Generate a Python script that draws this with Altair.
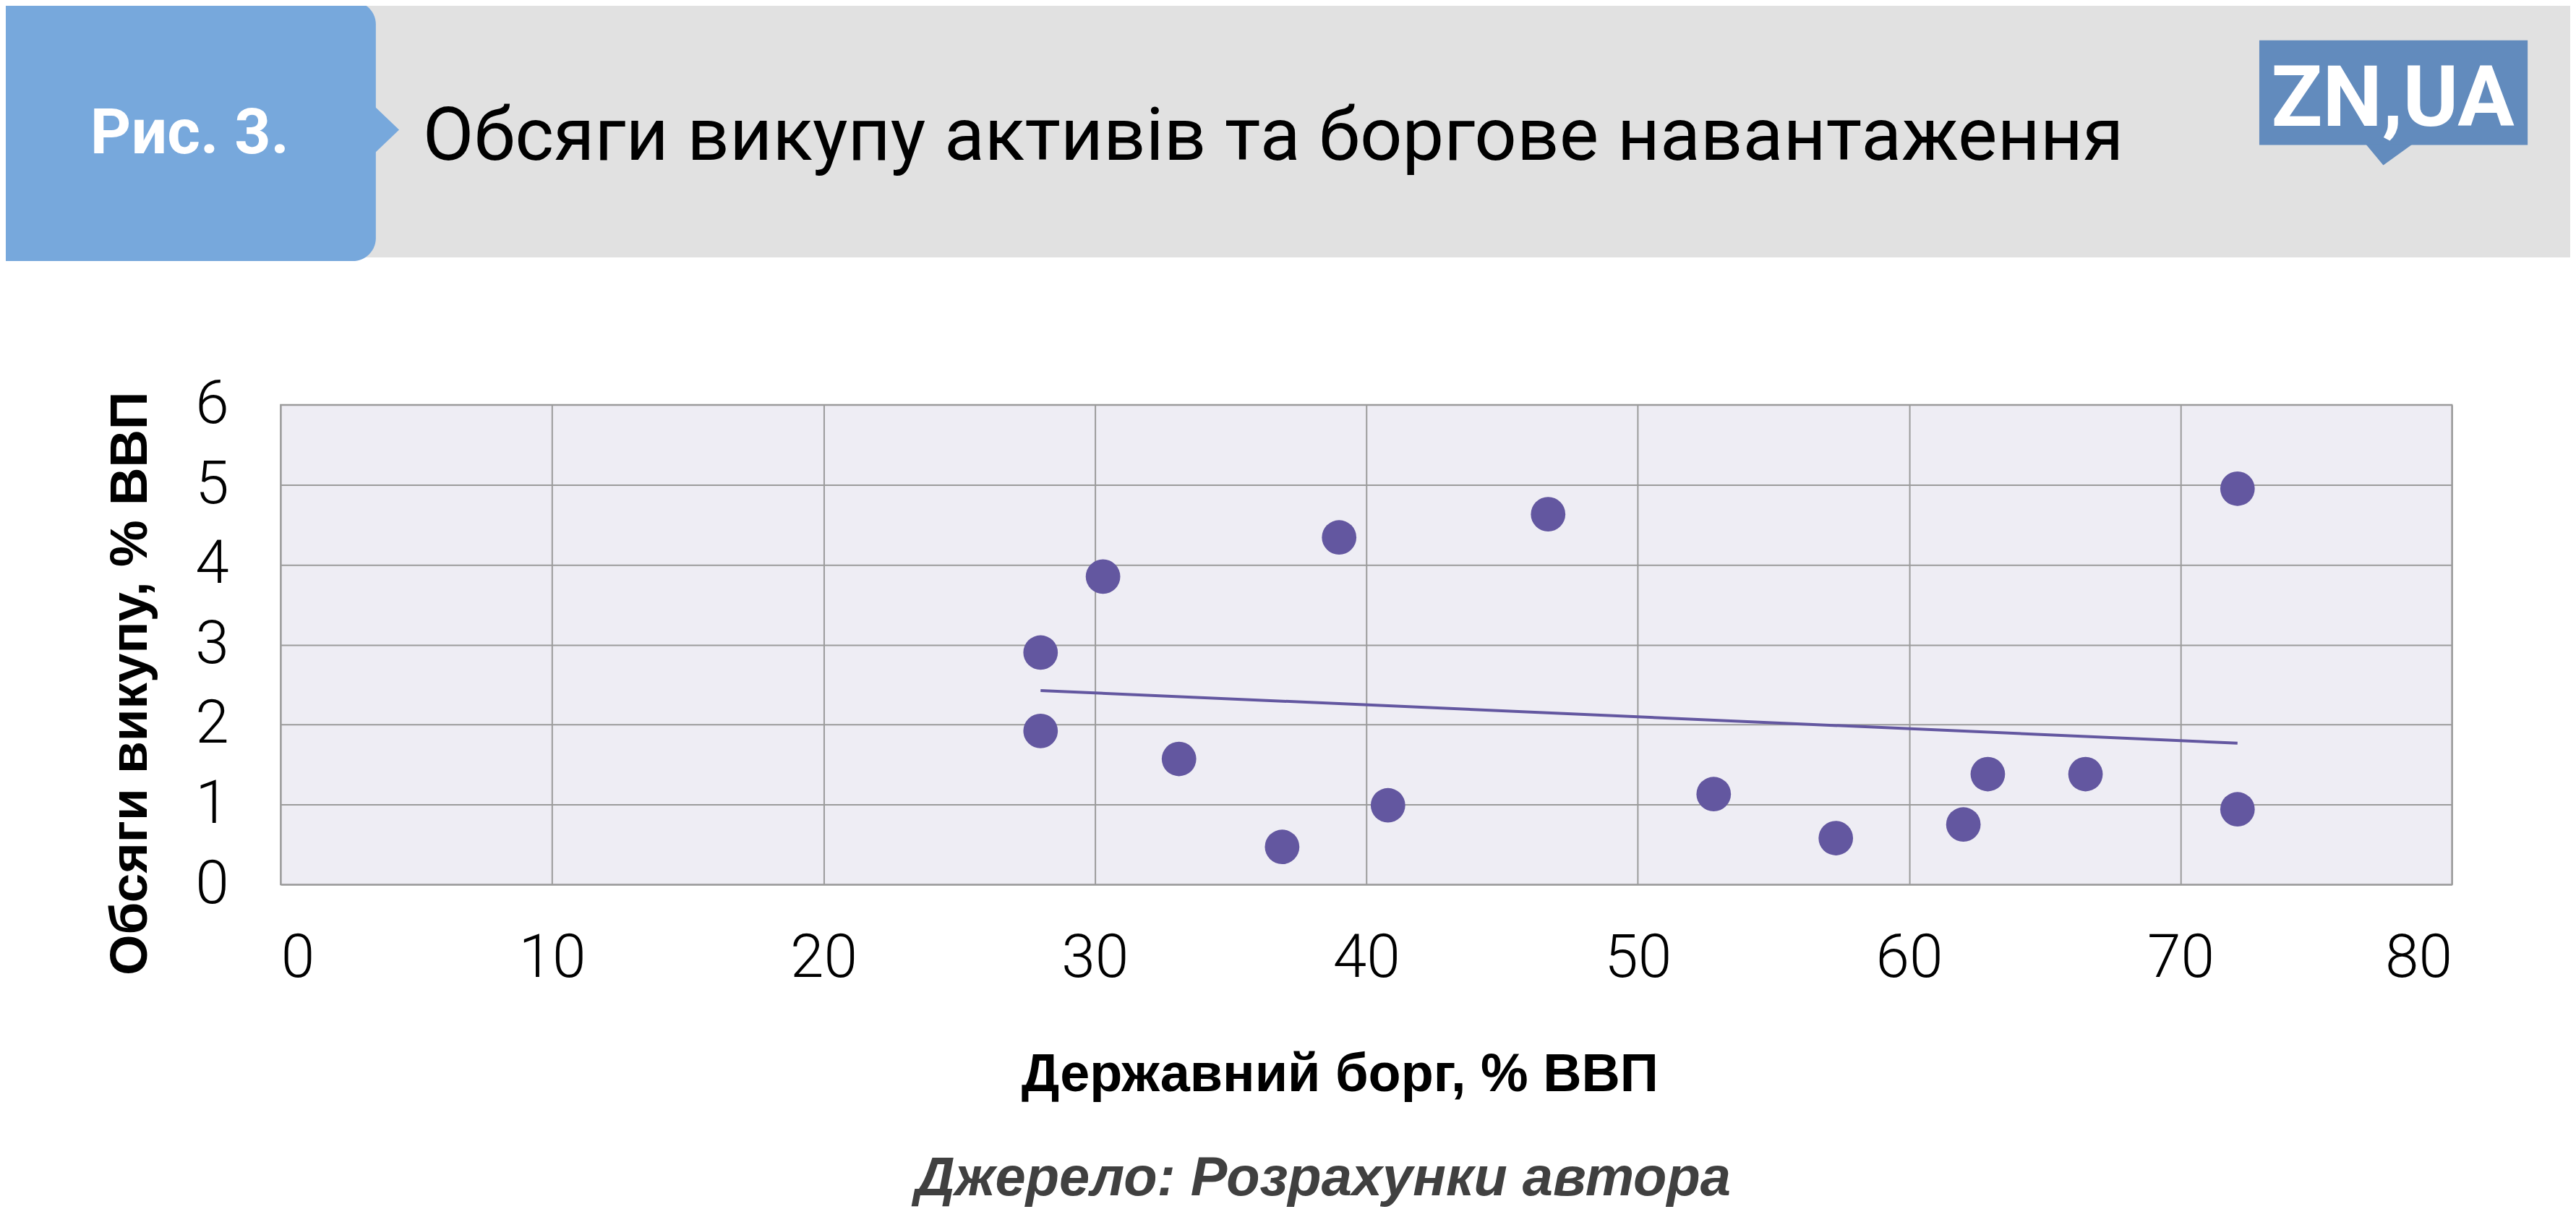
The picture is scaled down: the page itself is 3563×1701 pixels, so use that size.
import altair as alt
import pandas as pd

# ---- data ----
debt = [30.3, 28.0, 28.0, 33.1, 36.9, 39.0, 46.7, 72.1, 40.8, 52.8, 57.3, 62.0, 62.9, 66.5, 72.1]
buyback = [3.85, 2.90, 1.92, 1.57, 0.47, 4.34, 4.63, 4.95, 0.99, 1.13, 0.58, 0.75, 1.38, 1.38, 0.94]
x_ticks = [0, 10, 20, 30, 40, 50, 60, 70, 80]
y_ticks = [0, 1, 2, 3, 4, 5, 6]

fig_label = "Рис. 3."
title_text = "Обсяги викупу активів та боргове навантаження"
logo_text = "ZN,UA"
x_title = "Державний борг, % ВВП"
y_title = "Обсяги викупу, % ВВП"
source_text = "Джерело: Розрахунки автора"

df = pd.DataFrame({"debt": debt, "buyback": buyback})
one = pd.DataFrame({"k": [0]})

# page -> chart coordinates (plot origin at page 389, 559)
OX, OY = 389, 559
W, H = 3010, 665

ROBOTO = "Roboto, sans-serif"
ARIAL = "Liberation Sans, Arial, sans-serif"

DOT = "#6357A0"

x_enc = alt.X(
    "debt:Q",
    scale=alt.Scale(domain=[0, 80], nice=False),
    axis=alt.Axis(
        values=x_ticks, format="d", title=x_title, grid=True, ticks=False, tickSize=0, domain=False,
        labelFont=ROBOTO, labelFontSize=84, labelColor="#000000", labelFontWeight=300,
        labelBaseline="alphabetic", labelPadding=128,
        titleFont=ARIAL, titleFontSize=74, titleFontWeight="bold", titleColor="#000000",
        titleX=1857 - OX, titleY=1488 - 1224, titleAlign="center", titleBaseline="middle",
    ),
)
y_enc = alt.Y(
    "buyback:Q",
    scale=alt.Scale(domain=[0, 6], nice=False),
    axis=alt.Axis(
        values=y_ticks, format="d", title=y_title, grid=True, ticks=False, tickSize=0, domain=False,
        labelFont=ROBOTO, labelFontSize=84, labelColor="#000000", labelFontWeight=300,
        labelPadding=72, labelBaseline="middle",
        titleFont=ARIAL, titleFontSize=73, titleFontWeight="bold", titleColor="#000000",
        titleAngle=270, titleX=181 - OX, titleY=945 - OY, titleAlign="center", titleBaseline="middle",
    ),
)

points = alt.Chart(df).mark_circle(size=2290, opacity=1, color=DOT).encode(x=x_enc, y=y_enc)
trend = (
    alt.Chart(df)
    .transform_regression("debt", "buyback")
    .mark_line(color=DOT, strokeWidth=4)
    .encode(x="debt:Q", y="buyback:Q")
)

# ---- header decorations ----
band = alt.Chart(one).mark_rect(color="#E1E1E1").encode(
    x=alt.value(-OX - 20), x2=alt.value(3600 - OX), y=alt.value(-OY - 20), y2=alt.value(355 - OY)
)
blue = alt.Chart(one).mark_rect(color="#77A8DC", cornerRadius=32).encode(
    x=alt.value(-OX - 60), x2=alt.value(521 - OX), y=alt.value(0 - OY), y2=alt.value(360 - OY)
)
notch = alt.Chart(one).mark_point(
    shape="M-0.55,-1L0.5,0L-0.55,1Z", filled=True, size=4225, color="#77A8DC", opacity=1, strokeWidth=0
).encode(x=alt.value(537 - OX), y=alt.value(178 - OY))
fig_txt = alt.Chart(one).mark_text(
    text=fig_label, font=ROBOTO, fontSize=88, fontWeight="bold", color="#FFFFFF",
    align="center", baseline="alphabetic",
).encode(x=alt.value(263 - OX), y=alt.value(211 - OY))
title_txt = alt.Chart(one).mark_text(
    text=title_text, font=ROBOTO, fontSize=103, fontWeight="normal", color="#000000",
    align="left", baseline="alphabetic",
).encode(x=alt.value(586 - OX), y=alt.value(220 - OY))
logo_box = alt.Chart(one).mark_rect(color="#628BBD").encode(
    x=alt.value(3132 - OX), x2=alt.value(3504 - OX), y=alt.value(54 - OY), y2=alt.value(199 - OY)
)
logo_tail = alt.Chart(one).mark_point(
    shape="M-1,-0.47L1,-0.47L-0.25,0.43Z", filled=True, size=4225, color="#628BBD", opacity=1, strokeWidth=0
).encode(x=alt.value(3312 - OX), y=alt.value(213 - OY))
logo_txt = alt.Chart(one).mark_text(
    text=logo_text, font=ROBOTO, fontSize=117, fontWeight="bold", color="#FFFFFF",
    align="center", baseline="alphabetic",
).encode(x=alt.value(3317 - OX), y=alt.value(172 - OY))
source_txt = alt.Chart(one).mark_text(
    text=source_text, font=ARIAL, fontSize=76, fontWeight="bold", fontStyle="italic", color="#404040",
    align="center", baseline="alphabetic",
).encode(x=alt.value(1834 - OX), y=alt.value(1655 - OY))

chart = (
    alt.layer(band, blue, notch, fig_txt, title_txt, logo_box, logo_tail, logo_txt, source_txt, trend, points)
    .properties(
        width=W, height=H,
        autosize=alt.AutoSizeParams(type="none"),
        padding={"left": OX - 8, "top": OY - 8, "right": 3555 - (OX - 8) - W, "bottom": 1693 - (OY - 8) - H},
        background="#FFFFFF",
    )
    .configure_view(fill="#EEEDF4", stroke="#9B9B9B", strokeWidth=2)
    .configure_axis(gridColor="#9B9B9B", gridWidth=2, gridOpacity=1)
)

chart.save("out.html", embed_options={"renderer": "svg", "actions": False})
